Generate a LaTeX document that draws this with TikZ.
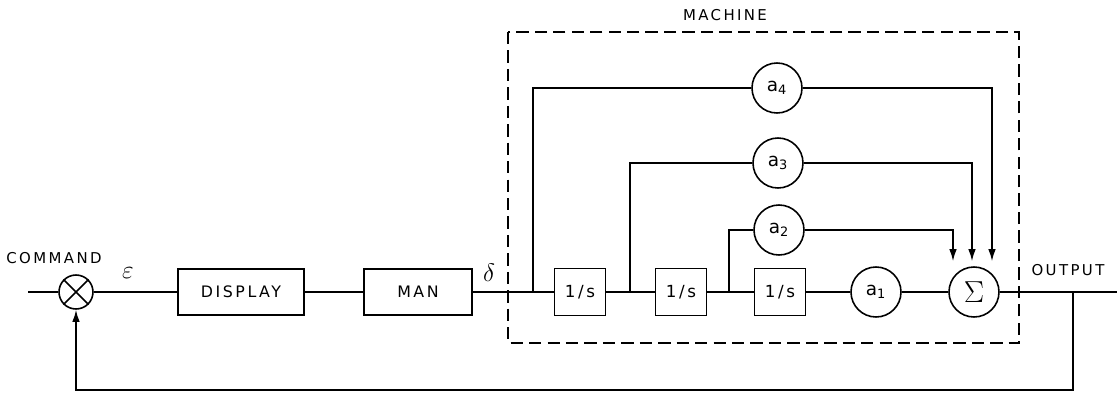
\documentclass[tikz,border=0pt]{standalone}
\usepackage{fontspec}
\newfontfamily\lettering[LetterSpace=16]{DejaVu Sans}
\usetikzlibrary{arrows.meta,positioning,calc}

\begin{document}
\begin{tikzpicture}[x=0.02cm,y=-0.02cm,line width=0.9pt,
  txt/.style={font=\lettering\fontsize{8.5}{10}\selectfont},
  blk/.style={draw,rectangle,minimum height=0.92cm,inner sep=0,font=\lettering\fontsize{9}{10}\selectfont},
  intg/.style={draw,rectangle,minimum width=1.02cm,minimum height=0.94cm,inner sep=0,font=\lettering\fontsize{9.5}{10}\selectfont},
  gain/.style={draw,circle,minimum size=1.0cm,inner sep=0,font=\lettering\fontsize{10.5}{11}\selectfont},
  sumj/.style={draw,circle,minimum size=0.68cm,inner sep=0},
  lbl/.style={inner sep=1pt,txt},
  arr/.style={-{Latex[length=2.4mm,width=1.5mm]}},
  box/.style={dashed,dash pattern=on 7pt off 3.5pt,line width=0.8pt}]
 \useasboundingbox (0,0) rectangle (1117,397);
 % forward path
 \coordinate (in) at (28,292);
 \node[sumj] (sum) at (76,292) {};
 \draw (sum.north east) -- (sum.south west) (sum.north west) -- (sum.south east);
 \node[blk,minimum width=2.52cm] (disp) at (241,292) {DISPLAY};
 \node[blk,minimum width=2.16cm] (man) at (418,292) {MAN};
 \node[lbl] (cmd) at (54,258) {COMMAND};
 \node[font=\Large] (eps) at (128,273) {$\varepsilon$};
 \node[font=\Large] (del) at (489,273) {$\delta$};
 % machine
 \draw[box] (508,32) rectangle (1019,343);
 \node[lbl] (mach) at (725,15) {MACHINE};
 \node[intg] (s1) at (580,292) {1/s};
 \node[intg] (s2) at (681,292) {1/s};
 \node[intg] (s3) at (780,292) {1/s};
 \node[gain] (a1) at (876,292) {a\textsubscript{1}};
 \node[gain,font=\LARGE] (sig) at (974,292) {$\Sigma$};
 \node[gain] (a2) at (779,230) {a\textsubscript{2}};
 \node[gain] (a3) at (778,163) {a\textsubscript{3}};
 \node[gain] (a4) at (777,88) {a\textsubscript{4}};
 \coordinate (j4) at (533,292);
 \coordinate (j3) at (630,292);
 \coordinate (j2) at (729,292);
 \draw (in) -- (sum.west);
 \draw (sum.east) -- (disp.west);
 \draw (disp) -- (man);
 \draw (man) -- (s1);
 \draw (s1) -- (s2);
 \draw (s2) -- (s3);
 \draw (s3) -- (a1);
 \draw (a1) -- (sig);
 \draw (j4) |- (a4);
 \draw (j3) |- (a3);
 \draw (j2) |- (a2);
 \draw[arr] (a2) -| ([xshift=-0.42cm,yshift=0.1cm]sig.north);
 \draw[arr] (a3) -| ([xshift=-0.04cm,yshift=0.1cm]sig.north);
 \draw[arr] (a4) -| ([xshift=0.36cm,yshift=0.1cm]sig.north);
 % output and feedback
 \coordinate (out) at (1117,292);
 \coordinate (jo) at (1073,292);
 \coordinate (fb) at (1073,390);
 \node[lbl] (outl) at (1068,270) {OUTPUT};
 \draw (sig) -- (out);
 \draw[arr] (jo) -- (fb) -| (sum.south);
\end{tikzpicture}
\end{document}
